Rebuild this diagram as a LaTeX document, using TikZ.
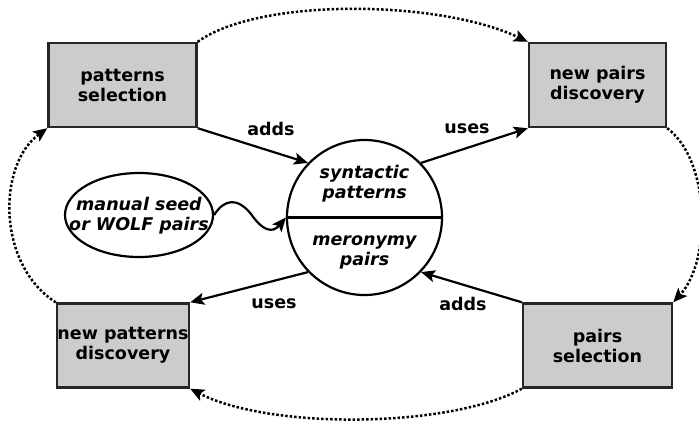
\documentclass[tikz,border=0pt]{standalone}
\usepackage{fontspec}
\setmainfont{DejaVu Sans}[BoldFont={DejaVu Sans Bold}, ItalicFont={DejaVu Sans Oblique}, BoldItalicFont={DejaVu Sans Bold Oblique}]
\usepackage{tikz}
\usetikzlibrary{arrows.meta,shapes.geometric}

\begin{document}
\begin{tikzpicture}[x=1pt, y=-1pt,
font=\fontsize{17.5}{20}\selectfont\bfseries,
squarednode/.style={rectangle, draw=black!85, fill=black!20, line width=2.4pt, minimum height=84pt, inner sep=0pt, align=center},
roundnode/.style={circle, draw=black, line width=2.2pt, minimum size=155pt, inner sep=0pt},
ovalnode/.style={ellipse, draw=black, line width=2.2pt, minimum width=148pt, minimum height=84pt, inner sep=0pt},
slantnode/.style={align=center, inner sep=0pt, font=\fontsize{17.5}{20}\selectfont\bfseries\itshape},
flow/.style={-{Stealth[length=14pt,width=12pt,inset=3pt]}, line width=2.2pt},
loopflow/.style={flow, line width=2.5pt, dotted},
]
\useasboundingbox (0,0) rectangle (699,421);

%Nodes
\node[squarednode, minimum width=148pt] (psel)    at (122.5,85)    {patterns\\selection};
\node[squarednode, minimum width=137pt] (npairs)  at (597.5,85)    {new pairs\\discovery};
\node[squarednode, minimum width=132pt] (npatt)   at (123,345.5)   {new patterns\\discovery};
\node[squarednode, minimum width=149pt] (pairsel) at (597.5,345.5) {pairs\\selection};
\node[roundnode]                        (store)   at (364.5,217.5) {};
\node[ovalnode]                         (seed)    at (139,215)     {};
\node[slantnode] (synt)    at (364.5,184) {syntactic\\patterns};
\node[slantnode] (mero)    at (364.5,252) {meronymy\\pairs};
\node[slantnode] (seedtxt) at (139,216)   {manual seed\\or WOLF pairs};

%Lines
\draw[line width=2.2pt] (store.west) -- (store.east);
\draw[flow] (psel.south east) -- (store.136);
\draw[flow] (store.44) -- (npairs.south west);
\draw[flow] (store.224) -- (npatt.north east);
\draw[flow] (pairsel.north west) -- (store.316);
\draw[flow] (seed.east) .. controls (225,198) and (238,198) .. (251,214) .. controls (262,230) and (272,234) .. (store.west);

\draw[loopflow] (psel.north east) .. controls (260,-3) and (440,0) .. (npairs.north west);
\draw[loopflow] (npairs.south east) .. controls (710,160) and (712,260) .. (pairsel.north east);
\draw[loopflow] (pairsel.south west) .. controls (450,428) and (270,430) .. (npatt.south east);
\draw[loopflow] (npatt.north west) .. controls (-3,265) and (-3,165) .. (psel.south west);

%Text
\node (addsA) at (271,129) {adds};
\node (usesA) at (467,129) {uses};
\node (usesB) at (274,304) {uses};
\node (addsB) at (463,304) {adds};
\end{tikzpicture}
\end{document}
